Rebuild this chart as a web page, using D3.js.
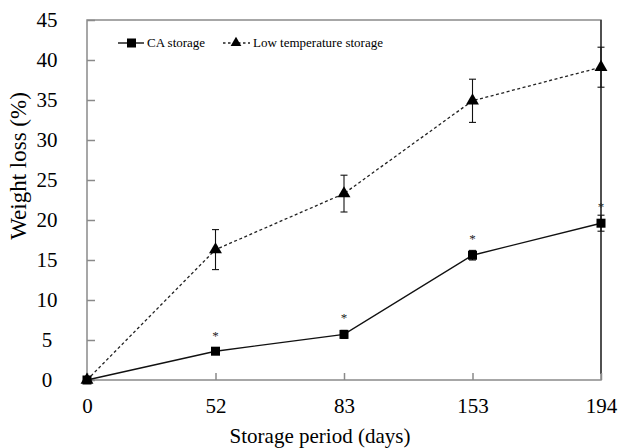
<!DOCTYPE html>
<html>
<head>
<meta charset="utf-8">
<script src="https://cdn.jsdelivr.net/npm/d3@7/dist/d3.min.js"></script>
<style>
html,body{margin:0;padding:0;background:#fff;}
svg{display:block;font-family:"Liberation Serif","Times New Roman",serif;}
</style>
</head>
<body>
<svg id="chart" width="618" height="448"></svg>
<script>
// ---- data ----
const days = ["0", "52", "83", "153", "194"];
const caValues = [0, 3.6, 5.7, 15.6, 19.6];
const caErrors = [0, 0.3, 0.5, 0.6, 1.0];
const lowValues = [0, 16.3, 23.3, 34.9, 39.1];
const lowErrors = [0, 2.5, 2.3, 2.7, 2.5];
const sigMarks = [null, 5.8, 8.0, 17.9, 21.9];
const yTicks = [0, 5, 10, 15, 20, 25, 30, 35, 40, 45];
const seriesNames = ["CA storage", "Low temperature storage"];

const svg = d3.select("#chart");
const L = 87, R = 601, T = 20, B = 380;
const x = d3.scalePoint().domain(days).range([L, R]).padding(0);
const y = d3.scaleLinear().domain([0, 45]).range([B, T]);

// frame
svg.append("rect").attr("x", L).attr("y", T).attr("width", R - L).attr("height", B - T)
  .attr("fill", "none").attr("stroke", "#8a8a8a").attr("stroke-width", 1.5);
svg.append("line").attr("x1", R).attr("x2", R).attr("y1", T).attr("y2", B - 6)
  .attr("stroke", "#222").attr("stroke-width", 1.3);

// y axis
const yAxis = d3.axisLeft(y).tickValues(yTicks).tickSizeInner(-8).tickSizeOuter(0).tickPadding(40);
const gy = svg.append("g").attr("transform", `translate(${L},0)`).call(yAxis);
gy.select(".domain").remove();
gy.selectAll(".tick line").attr("stroke", "#8a8a8a").attr("stroke-width", 1.5);
gy.selectAll(".tick text").attr("font-size", 21).attr("fill", "#000")
  .attr("font-family", "Liberation Serif").attr("text-anchor", "middle");

// x axis
const xAxis = d3.axisBottom(x).tickSizeInner(-7).tickSizeOuter(0).tickPadding(20);
const gx = svg.append("g").attr("transform", `translate(0,${B})`).call(xAxis);
gx.select(".domain").remove();
gx.selectAll(".tick line").attr("stroke", "#8a8a8a").attr("stroke-width", 1.5);
gx.selectAll(".tick text").attr("font-size", 21).attr("fill", "#000")
  .attr("font-family", "Liberation Serif").attr("dy", "0.71em").attr("y", 18);

// axis titles
svg.append("text").attr("x", 320).attr("y", 443).attr("text-anchor", "middle")
  .attr("font-size", 21).text("Storage period (days)");
svg.append("text").attr("transform", "translate(26,166) rotate(-90)").attr("text-anchor", "middle")
  .attr("font-size", 23).text("Weight  loss (%)");

// lines
const line = d3.line().x((d, i) => x(days[i])).y(d => y(d));
svg.append("path").datum(lowValues).attr("d", line).attr("fill", "none")
  .attr("stroke", "#222").attr("stroke-width", 1.3).attr("stroke-dasharray", "3,2.5");
svg.append("path").datum(caValues).attr("d", line).attr("fill", "none")
  .attr("stroke", "#111").attr("stroke-width", 1.4);

// error bars
function errBars(vals, errs) {
  const g = svg.append("g").attr("stroke", "#111").attr("stroke-width", 1.1);
  vals.forEach((v, i) => {
    if (!errs[i]) return;
    const cx = x(days[i]);
    g.append("line").attr("x1", cx).attr("x2", cx).attr("y1", y(v - errs[i])).attr("y2", y(v + errs[i]));
    [v - errs[i], v + errs[i]].forEach(e => {
      g.append("line").attr("x1", cx - 3.5).attr("x2", cx + 3.5).attr("y1", y(e)).attr("y2", y(e));
    });
  });
}
errBars(lowValues, lowErrors);
errBars(caValues, caErrors);

// markers
const tri = d3.symbol().type(d3.symbolTriangle).size(72);
svg.append("g").selectAll("path").data(lowValues).join("path")
  .attr("d", tri).attr("fill", "#000")
  .attr("transform", (d, i) => `translate(${x(days[i])},${y(d)})`);
svg.append("g").selectAll("rect").data(caValues).join("rect")
  .attr("x", (d, i) => x(days[i]) - 4.5).attr("y", d => y(d) - 4.5)
  .attr("width", 9).attr("height", 9).attr("fill", "#000");

// significance marks
const sigData = sigMarks.map((v, i) => ({ day: days[i], v })).filter(d => d.v !== null);
svg.append("g").selectAll("text").data(sigData).join("text")
  .attr("x", d => x(d.day)).attr("y", d => y(d.v) + 6)
  .attr("text-anchor", "middle").attr("font-size", 13).attr("fill", "#222").text("*");

// legend
const lg = svg.append("g");
lg.append("line").attr("x1", 118).attr("x2", 144).attr("y1", 43).attr("y2", 43)
  .attr("stroke", "#111").attr("stroke-width", 1.4);
lg.append("rect").attr("x", 127).attr("y", 38.5).attr("width", 9).attr("height", 9).attr("fill", "#000");
lg.append("text").attr("x", 147).attr("y", 47).attr("font-size", 13).text(seriesNames[0]);
lg.append("line").attr("x1", 223).attr("x2", 250).attr("y1", 43).attr("y2", 43)
  .attr("stroke", "#222").attr("stroke-width", 1.3).attr("stroke-dasharray", "2.5,2.5");
lg.append("path").attr("d", d3.symbol().type(d3.symbolTriangle).size(50))
  .attr("transform", "translate(236,43)").attr("fill", "#000");
lg.append("text").attr("x", 253).attr("y", 47).attr("font-size", 13).text(seriesNames[1]);
</script>
</body>
</html>
